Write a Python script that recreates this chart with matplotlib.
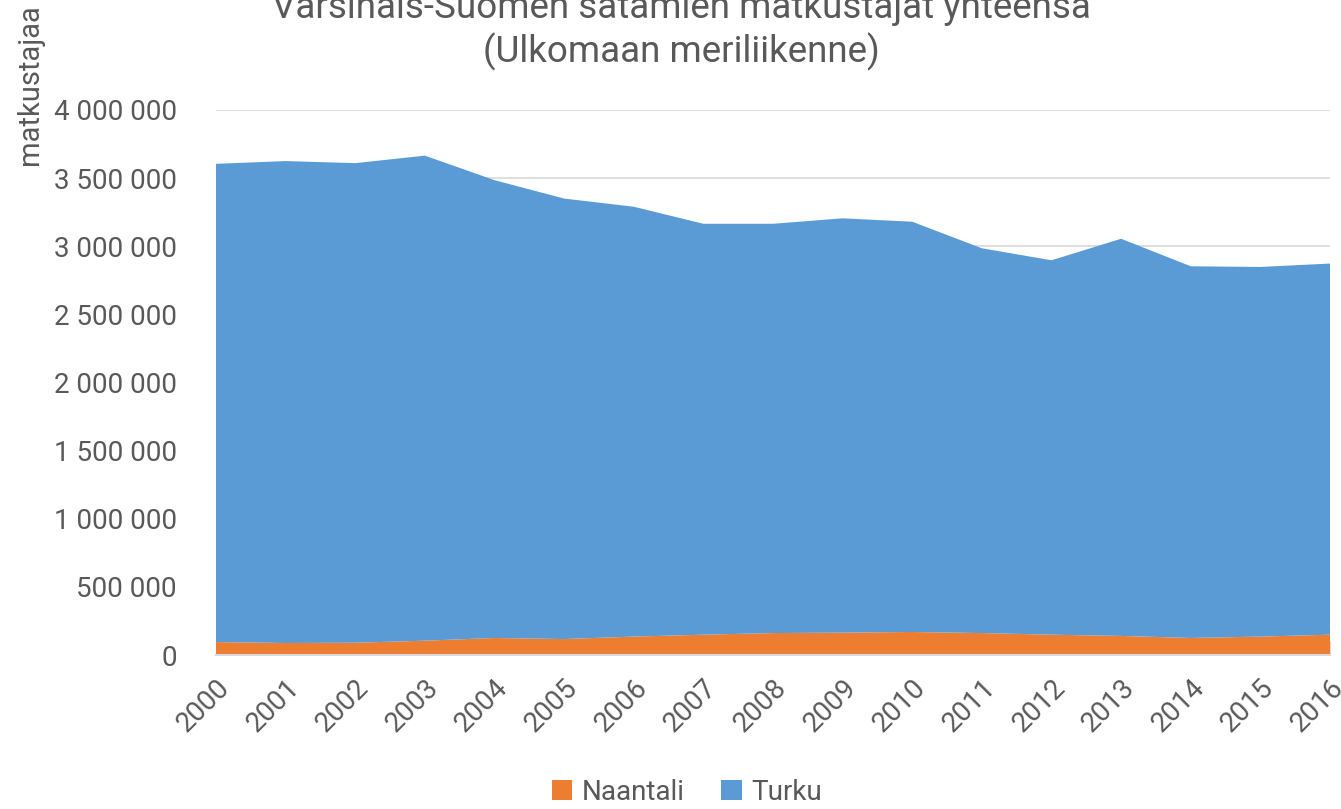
import matplotlib
matplotlib.use("Agg")
import matplotlib.pyplot as plt
from matplotlib import font_manager
from matplotlib.patches import Patch
from matplotlib.ticker import FuncFormatter

years = list(range(2000, 2017))
naantali = [95000, 88000, 90000, 105000, 125000, 117000, 135000, 149000, 161000,
            164000, 169000, 161000, 149000, 140000, 125000, 135000, 149000]
turku = [3510000, 3537000, 3520000, 3560000, 3360000, 3233000, 3155000, 3016000, 3004000,
         3041000, 3011000, 2824000, 2748000, 2915000, 2728000, 2713000, 2724000]
series_names = ["Naantali", "Turku"]
colors = ["#ED7D31", "#5B9BD5"]
title_lines = ["Varsinais-Suomen satamien matkustajat yhteensä", "(Ulkomaan meriliikenne)"]
ylabel = "matkustajaa"

names = {f.name for f in font_manager.fontManager.ttflist}
narrow = "Liberation Sans Narrow" if "Liberation Sans Narrow" in names else "Roboto"
main_font = "Roboto" if "Roboto" in names else "DejaVu Sans"
plt.rcParams["font.family"] = [main_font, "DejaVu Sans"]
txt = "#595959"
title_size = 24 if narrow == "Liberation Sans Narrow" else 26.5

fig = plt.figure(figsize=(13.41, 8.09), dpi=100)
ax = fig.add_axes([216/1341, 1-655/809, (1330-216)/1341, (655-110)/809])

ax.stackplot(years, naantali, turku, colors=colors, linewidth=0)
ax.set_xlim(2000, 2016)
ax.set_ylim(0, 4000000)
ax.set_yticks(range(0, 4000001, 500000))
ax.yaxis.set_major_formatter(FuncFormatter(lambda v, p: f"{int(v):,}".replace(",", " ")))
ax.set_xticks(years)
ax.set_xticklabels([str(y) for y in years], rotation=45, ha="right", rotation_mode="anchor")
ax.grid(axis="y", color="#d9d9d9", linewidth=1.2, zorder=0)
ax.set_axisbelow(True)
for s in ["top", "right", "left"]:
    ax.spines[s].set_visible(False)
ax.spines["bottom"].set_color("#d9d9d9")
ax.spines["bottom"].set_linewidth(1.5)
ax.spines["bottom"].set_zorder(5)
ax.tick_params(axis="y", length=0, labelsize=20, colors=txt, pad=28)
ax.tick_params(axis="x", direction="in", length=10, color="#d9d9d9", labelsize=20,
               labelcolor=txt, pad=14)

fig.text(681/1341, 1-8/809, title_lines[0], ha="center", va="center",
         fontsize=title_size, color=txt, family=[narrow, "DejaVu Sans"])
fig.text(681/1341, 1-52/809, title_lines[1], ha="center", va="center",
         fontsize=title_size, color=txt, family=[narrow, "DejaVu Sans"])
fig.text(30/1341, 1-165/809, ylabel, rotation=90, ha="center", va="bottom",
         fontsize=21, color=txt)

handles = [Patch(facecolor=c, edgecolor="none") for c in colors]
fig.legend(handles, series_names, loc="center", bbox_to_anchor=(687/1341, 1-792/809),
           ncol=2, frameon=False, fontsize=20, labelcolor=txt, handlelength=0.75,
           handleheight=0.75, handletextpad=0.35, columnspacing=1.3)

fig.savefig("out.png", dpi=100)
